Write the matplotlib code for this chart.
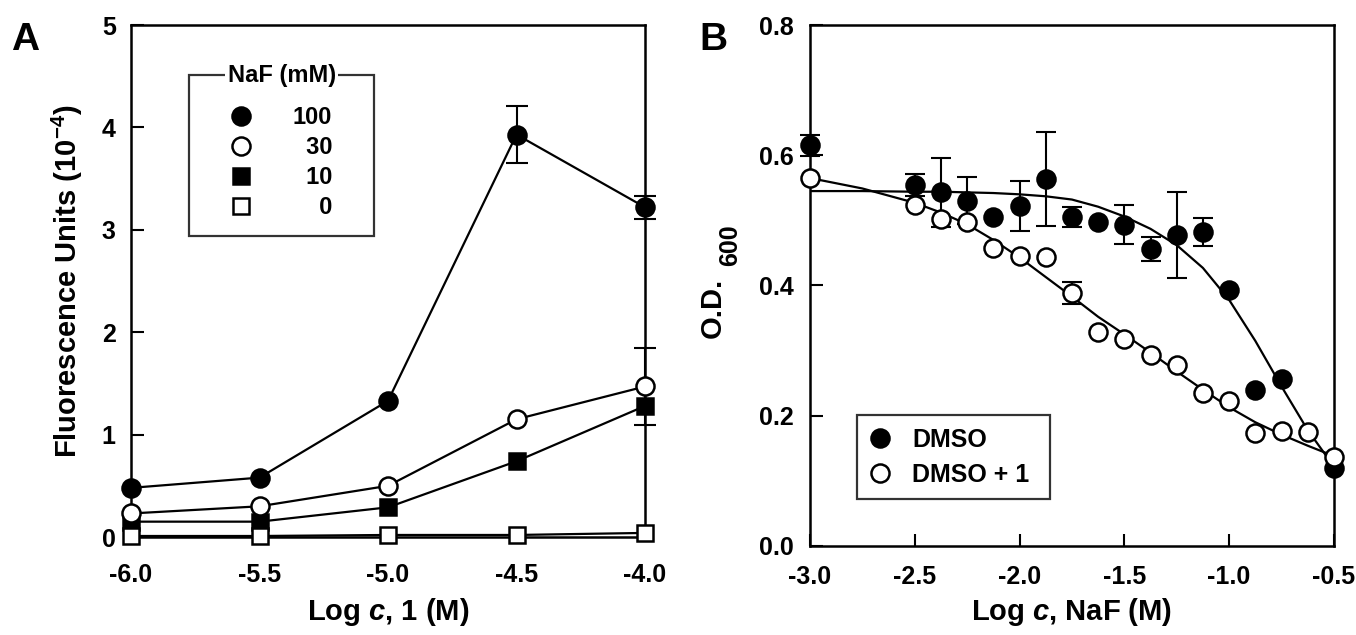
import numpy as np
import matplotlib.pyplot as plt

plt.rcParams['font.family'] = ['Liberation Sans', 'DejaVu Sans']
plt.rcParams['font.weight'] = 'bold'
plt.rcParams['axes.unicode_minus'] = False
plt.rcParams['mathtext.fontset'] = 'custom'
plt.rcParams['mathtext.rm'] = 'Liberation Sans:bold'
plt.rcParams['mathtext.bf'] = 'Liberation Sans:bold'
plt.rcParams['mathtext.it'] = 'Liberation Sans:italic:bold'
plt.rcParams['mathtext.default'] = 'bf'

# --- panel A data: fluorescence vs log c of compound 1 ---
log_c1 = [-6.0, -5.5, -5.0, -4.5, -4.0]
naf_100 = [0.48, 0.58, 1.33, 3.93, 3.22]
naf_100_err = [0, 0, 0, 0.28, 0.11]
naf_30 = [0.23, 0.30, 0.50, 1.15, 1.47]
naf_30_err = [0, 0, 0, 0, 0.38]
naf_10 = [0.15, 0.15, 0.29, 0.74, 1.28]
naf_0 = [0.01, 0.01, 0.02, 0.02, 0.04]

# --- panel B data: O.D.600 vs log c NaF ---
log_naf_dmso = [-3.0, -2.5, -2.375, -2.25, -2.125, -2.0, -1.875, -1.75, -1.625,
                -1.5, -1.375, -1.25, -1.125, -1.0, -0.875, -0.75, -0.5]
od_dmso = [0.615, 0.554, 0.543, 0.530, 0.505, 0.522, 0.563, 0.505, 0.497,
           0.493, 0.456, 0.477, 0.482, 0.393, 0.239, 0.257, 0.120]
od_dmso_err = [0.016, 0.017, 0.053, 0.036, 0, 0.039, 0.072, 0.015, 0,
               0.030, 0.018, 0.066, 0.022, 0, 0, 0, 0]

log_naf_cpd = [-3.0, -2.5, -2.375, -2.25, -2.125, -2.0, -1.875, -1.75, -1.625,
               -1.5, -1.375, -1.25, -1.125, -1.0, -0.875, -0.75, -0.625, -0.5]
od_cpd = [0.565, 0.523, 0.502, 0.498, 0.458, 0.446, 0.443, 0.389, 0.329,
          0.318, 0.294, 0.278, 0.235, 0.222, 0.174, 0.177, 0.175, 0.137]
od_cpd_err = [0, 0, 0, 0, 0, 0, 0, 0.017, 0,
              0, 0, 0, 0, 0, 0, 0, 0, 0]

# fitted curves
fit_x = [-3.0, -2.75, -2.5, -2.375, -2.25, -2.125, -2.0, -1.875, -1.75, -1.625,
         -1.5, -1.375, -1.25, -1.125, -1.0, -0.875, -0.75, -0.625, -0.5]
fit_y_dmso = [0.545, 0.545, 0.544, 0.544, 0.543, 0.542, 0.540, 0.537, 0.532, 0.521,
              0.506, 0.487, 0.462, 0.427, 0.378, 0.315, 0.245, 0.178, 0.122]
fit_y_cpd = [0.565, 0.549, 0.527, 0.512, 0.494, 0.470, 0.443, 0.413, 0.383, 0.352,
             0.325, 0.297, 0.268, 0.240, 0.213, 0.190, 0.171, 0.154, 0.138]

fig = plt.figure(figsize=(13.56, 6.35), dpi=100)
axA = fig.add_axes([0.0966, 0.1543, 0.3791, 0.8063])
axB = fig.add_axes([0.5973, 0.1402, 0.3864, 0.8204])

ms = 13
mew = 1.8
lw = 1.6


def err_subset(ax, x, y, e, cap):
    idx = [i for i in range(len(e)) if e[i] > 0]
    ax.errorbar([x[i] for i in idx], [y[i] for i in idx], yerr=[e[i] for i in idx],
                fmt='none', ecolor='black', elinewidth=1.5, capsize=cap,
                capthick=1.5, zorder=2, clip_on=False)


# ---- Panel A ----
err_subset(axA, log_c1, naf_100, naf_100_err, 8)
err_subset(axA, log_c1, naf_30, naf_30_err, 8)
axA.plot(log_c1, naf_100, '-o', color='black', mfc='black', mec='black', ms=ms,
         mew=mew, lw=lw, label='100', zorder=3, clip_on=False)
axA.plot(log_c1, naf_10, '-s', color='black', mfc='black', mec='black', ms=ms - 1,
         mew=mew, lw=lw, label='\u200710', zorder=4, clip_on=False)
axA.plot(log_c1, naf_30, '-o', color='black', mfc='white', mec='black', ms=ms,
         mew=mew, lw=lw, label='\u200730', zorder=5, clip_on=False)
axA.plot(log_c1, naf_0, '-s', color='black', mfc='white', mec='black', ms=ms - 1,
         mew=mew, lw=lw, label='\u2007\u20070', zorder=6, clip_on=False)

axA.set_xlim(-6.0, -4.0)
axA.set_ylim(0, 5)
axA.set_xticks([-6.0, -5.5, -5.0, -4.5, -4.0])
axA.set_xticklabels(['%.1f' % v for v in [-6.0, -5.5, -5.0, -4.5, -4.0]])
axA.set_yticks([0, 1, 2, 3, 4, 5])
axA.tick_params(axis='y', direction='in', length=9, width=1.5, labelsize=18, pad=11)
axA.tick_params(axis='x', length=0, labelsize=18, pad=19)
for s in axA.spines.values():
    s.set_linewidth(1.8)
axA.set_xlabel(r'Log $\mathit{c}$, 1 (M)', fontsize=21, fontweight='bold', labelpad=6)
axA.set_ylabel(r'Fluorescence Units (10$^{-4}$)', fontsize=21, fontweight='bold', labelpad=12)

handles, labels = axA.get_legend_handles_labels()
order = [0, 2, 1, 3]
legA = axA.legend([handles[i] for i in order], [labels[i] for i in order],
                  loc='upper left', bbox_to_anchor=(0.113, 0.596, 0.36, 0.306),
                  mode='expand', borderaxespad=0, title=' ', title_fontsize=6,
                  frameon=True, fancybox=False, edgecolor='black', fontsize=17,
                  handlelength=3.0, handletextpad=0.7, labelspacing=0.3,
                  borderpad=0.7)
legA.get_frame().set_linewidth(1.6)
for h in legA.legend_handles:
    h.set_linestyle('none')

# ---- Panel B ----
axB.plot(fit_x, fit_y_dmso, '-', color='black', lw=lw, zorder=1)
axB.plot(fit_x, fit_y_cpd, '-', color='black', lw=lw, zorder=1)
err_subset(axB, log_naf_dmso, od_dmso, od_dmso_err, 7)
err_subset(axB, log_naf_cpd, od_cpd, od_cpd_err, 7)
axB.plot(log_naf_dmso, od_dmso, 'o', mfc='black', mec='black', ms=ms, mew=mew,
         label='DMSO', zorder=3, clip_on=False)
axB.plot(log_naf_cpd, od_cpd, 'o', mfc='white', mec='black', ms=ms, mew=mew,
         label='DMSO + 1', zorder=4, clip_on=False)

axB.set_xlim(-3.0, -0.5)
axB.set_ylim(0, 0.8)
xt = [-3.0, -2.5, -2.0, -1.5, -1.0, -0.5]
axB.set_xticks(xt)
axB.set_xticklabels(['%.1f' % v for v in xt])
yt = [0.0, 0.2, 0.4, 0.6, 0.8]
axB.set_yticks(yt)
axB.set_yticklabels(['%.1f' % v for v in yt])
axB.tick_params(axis='y', direction='in', length=9, width=1.5, labelsize=18, pad=12)
axB.tick_params(axis='x', direction='in', length=9, width=1.5, labelsize=18, pad=14)
for s in axB.spines.values():
    s.set_linewidth(1.8)
axB.set_xlabel(r'Log $\mathit{c}$, NaF (M)', fontsize=21, fontweight='bold', labelpad=5)
fig.text(0.5258, 0.515, 'O.D.', rotation=90, fontsize=21, fontweight='bold',
         ha='center', va='center')
fig.text(0.5385, 0.614, '600', rotation=90, fontsize=18, fontweight='bold',
         ha='center', va='center')

legB = axB.legend(loc='upper left', bbox_to_anchor=(0.09, 0.084, 0.368, 0.167),
                  mode='expand', borderaxespad=0,
                  frameon=True, fancybox=False, edgecolor='black', fontsize=18,
                  handlelength=0.8, handletextpad=0.9, labelspacing=0.45,
                  borderpad=0.5)
legB.get_frame().set_linewidth(1.6)

# panel letters
fig.text(0.008, 0.966, 'A', fontsize=28, fontweight='bold', va='top', ha='left')
fig.text(0.516, 0.966, 'B', fontsize=28, fontweight='bold', va='top', ha='left')

# legend title sitting on the top border of legend A
fig.canvas.draw()
bb = legA.get_frame().get_window_extent().transformed(axA.transAxes.inverted())
axA.text((bb.x0 + bb.x1) / 2, bb.y1, 'NaF (mM)', transform=axA.transAxes,
         ha='center', va='center', fontsize=17, fontweight='bold', zorder=10,
         bbox=dict(facecolor='white', edgecolor='none', pad=1.5))

fig.savefig('out.png', dpi=100)
